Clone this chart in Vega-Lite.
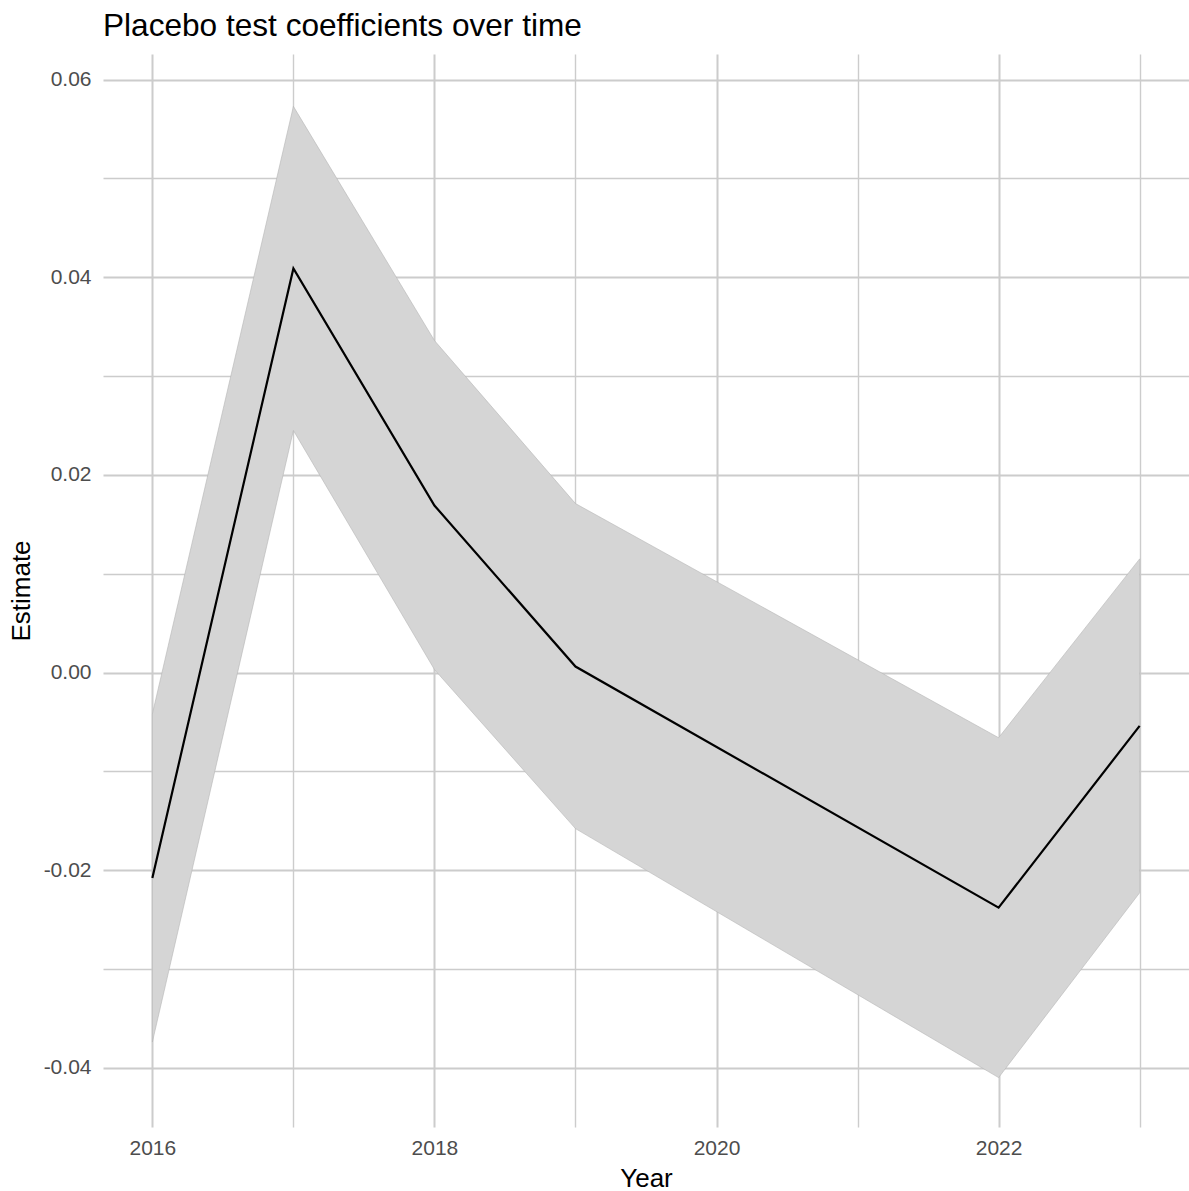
{
  "$schema": "https://vega.github.io/schema/vega-lite/v6.json",
  "width": 1086,
  "height": 1073,
  "autosize": "none",
  "padding": {"left": 103, "top": 54, "right": 0, "bottom": 64},
  "background": "white",
  "title": {
    "text": "Placebo test coefficients over time",
    "anchor": "start",
    "frame": "group",
    "font": "Liberation Sans",
    "fontSize": 31.6,
    "fontWeight": "normal",
    "color": "#000000",
    "offset": 11
  },
  "data": {
    "values": [
      {"year": 2016, "estimate": -0.0208, "lower": -0.0374, "upper": -0.0042},
      {"year": 2017, "estimate": 0.0409, "lower": 0.0245, "upper": 0.0573},
      {"year": 2018, "estimate": 0.0169, "lower": 0.0003, "upper": 0.0336},
      {"year": 2019, "estimate": 0.0006, "lower": -0.0158, "upper": 0.0171},
      {"year": 2022, "estimate": -0.0238, "lower": -0.0410, "upper": -0.0066},
      {"year": 2023, "estimate": -0.0054, "lower": -0.0223, "upper": 0.0115}
    ]
  },
  "config": {
    "view": {"stroke": null},
    "axis": {
      "domain": false,
      "ticks": false,
      "grid": true,
      "gridColor": "#CCCCCC",
      "labelFont": "Liberation Sans",
      "labelFontSize": 21,
      "labelColor": "#4D4D4D",
      "titleFont": "Liberation Sans",
      "titleFontSize": 26,
      "titleFontWeight": "normal",
      "titleColor": "#000000"
    }
  },
  "layer": [
    {
      "mark": {"type": "area", "fill": "#D5D5D5", "stroke": "#B5B5B5", "strokeWidth": 0.6, "opacity": 1},
      "encoding": {
        "x": {
          "field": "year",
          "type": "quantitative",
          "scale": {"domain": [2015.65, 2023.35], "nice": false, "zero": false},
          "axis": {
            "title": "Year",
            "values": [2016, 2017, 2018, 2019, 2020, 2021, 2022, 2023],
            "labelExpr": "datum.value % 2 == 0 ? '' + datum.value : ''",
            "gridWidth": {"expr": "datum.value % 2 == 0 ? 2 : 1.4"},
            "labelPadding": 10,
            "titlePadding": 7
          }
        },
        "y": {
          "field": "lower",
          "type": "quantitative",
          "scale": {"domain": [-0.046, 0.0626], "nice": false, "zero": false},
          "axis": {
            "title": "Estimate",
            "values": [-0.04, -0.03, -0.02, -0.01, 0, 0.01, 0.02, 0.03, 0.04, 0.05, 0.06],
            "labelExpr": "abs(round(datum.value * 100)) % 2 == 0 ? replace(format(datum.value, '.2f'), '\u2212', '-') : ''",
            "gridWidth": {"expr": "abs(round(datum.value * 100)) % 2 == 0 ? 2 : 1.4"},
            "labelPadding": 12,
            "titlePadding": 9
          }
        },
        "y2": {"field": "upper"}
      }
    },
    {
      "mark": {"type": "line", "color": "#000000", "strokeWidth": 2.2},
      "encoding": {
        "x": {"field": "year", "type": "quantitative"},
        "y": {"field": "estimate", "type": "quantitative"}
      }
    }
  ]
}
